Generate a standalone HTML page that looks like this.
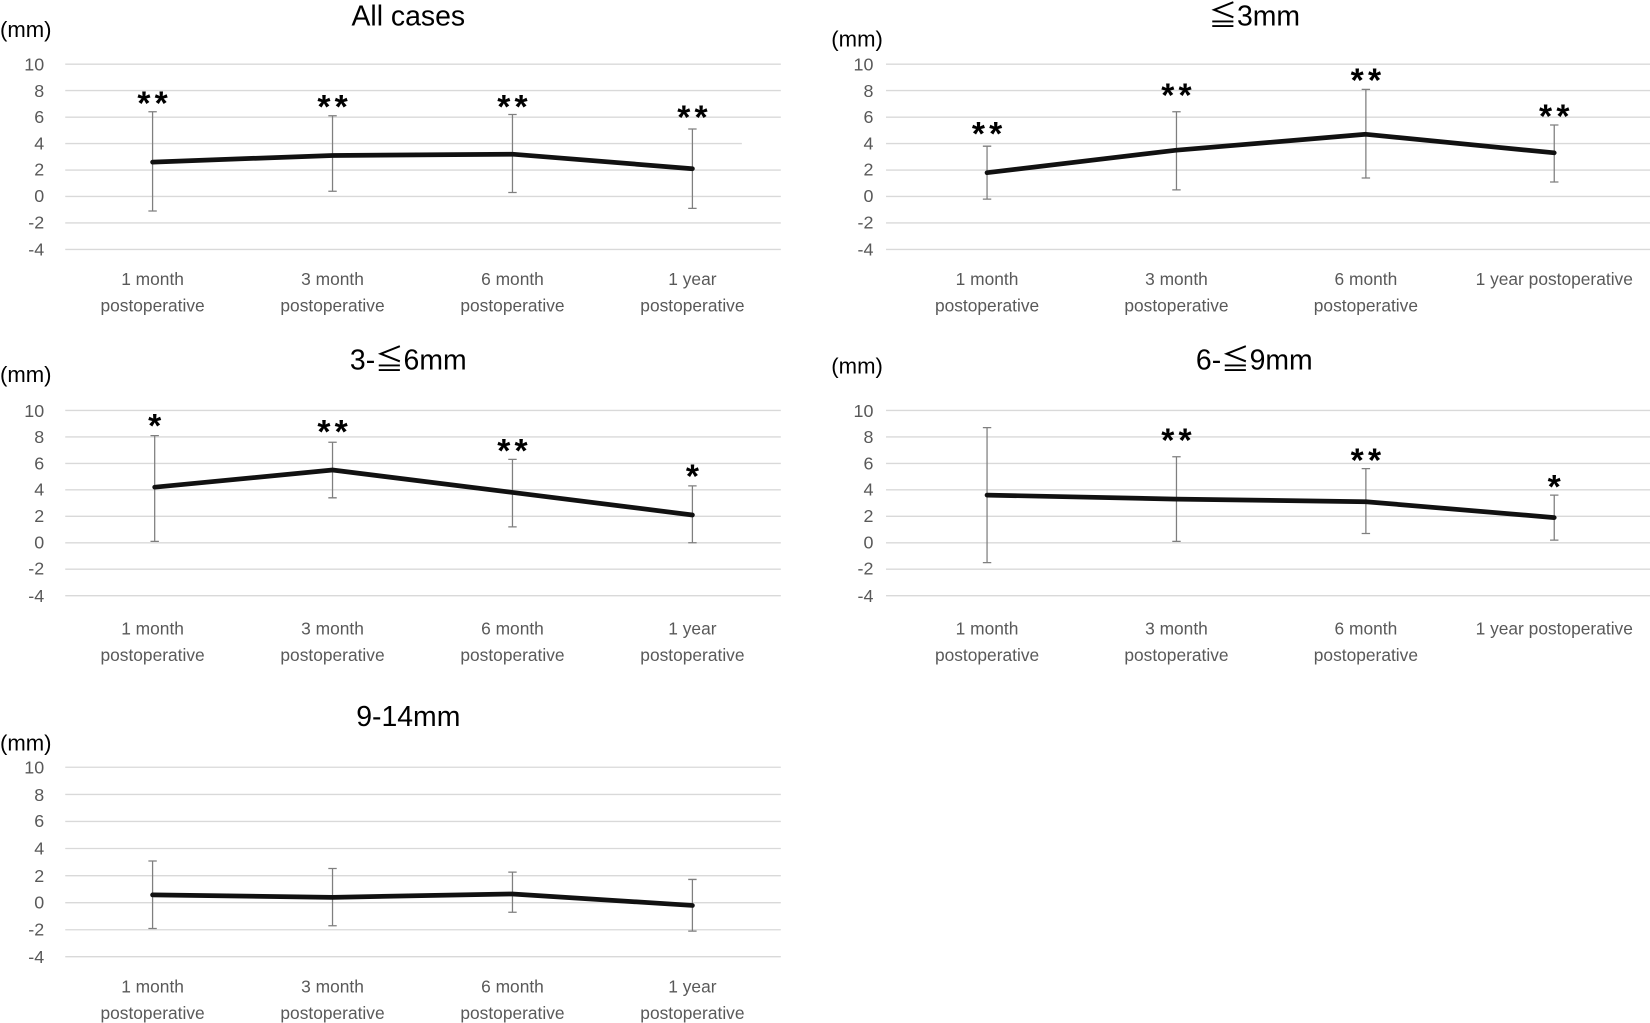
<!DOCTYPE html>
<html><head><meta charset="utf-8"><style>
html,body{margin:0;padding:0;background:#fff;}
svg{display:block;}
text{font-family:"Liberation Sans Narrow","Liberation Sans","Noto Sans CJK JP",sans-serif;}
.tk{font-size:17px;fill:#595959;text-anchor:end;}
.c{font-size:16.5px;fill:#595959;text-anchor:middle;}
.ti{font-size:27px;fill:#000;text-anchor:middle;}
.mm{font-size:21px;fill:#000;}
.st{font-family:"Liberation Sans",sans-serif;font-size:32px;font-weight:bold;fill:#000;text-anchor:middle;letter-spacing:4px;}
.g line{stroke:#d9d9d9;stroke-width:1.3;}
.e{stroke:#7f7f7f;stroke-width:1.2;fill:none;}
.l{stroke:#111;stroke-width:4.5;fill:none;stroke-linejoin:round;stroke-linecap:round;}
</style></head><body>
<svg width="1650" height="1023" viewBox="0 0 1568 972" preserveAspectRatio="none" xmlns="http://www.w3.org/2000/svg">
<defs>
<g id="gridA" class="g">
<line x1="62" x2="742" y1="61" y2="61"/><line x1="62" x2="742" y1="86.1" y2="86.1"/><line x1="62" x2="742" y1="111.3" y2="111.3"/><line x1="62" x2="742" y1="136.4" y2="136.4"/><line x1="62" x2="742" y1="161.6" y2="161.6"/><line x1="62" x2="742" y1="186.7" y2="186.7"/><line x1="62" x2="742" y1="211.8" y2="211.8"/><line x1="62" x2="742" y1="237" y2="237"/>
</g>
<g id="gridB" class="g">
<line x1="62" x2="788" y1="61" y2="61"/><line x1="62" x2="788" y1="86.1" y2="86.1"/><line x1="62" x2="788" y1="111.3" y2="111.3"/><line x1="62" x2="788" y1="136.4" y2="136.4"/><line x1="62" x2="788" y1="161.6" y2="161.6"/><line x1="62" x2="788" y1="186.7" y2="186.7"/><line x1="62" x2="788" y1="211.8" y2="211.8"/><line x1="62" x2="788" y1="237" y2="237"/>
</g>
</defs>

<!-- Panel A -->
<g>
<g class="g">
<line x1="62" x2="742" y1="61" y2="61"/><line x1="62" x2="742" y1="86.1" y2="86.1"/><line x1="62" x2="742" y1="111.3" y2="111.3"/><line x1="62" x2="705" y1="136.4" y2="136.4"/><line x1="62" x2="742" y1="161.6" y2="161.6"/><line x1="62" x2="742" y1="186.7" y2="186.7"/><line x1="62" x2="742" y1="211.8" y2="211.8"/><line x1="62" x2="742" y1="237" y2="237"/>
</g>
<text class="tk" x="42" y="67">10</text><text class="tk" x="42" y="92">8</text><text class="tk" x="42" y="117">6</text><text class="tk" x="42" y="142">4</text><text class="tk" x="42" y="167">2</text><text class="tk" x="42" y="192">0</text><text class="tk" x="42" y="217">-2</text><text class="tk" x="42" y="243">-4</text>
<text class="ti" x="388" y="24">All cases</text>
<text class="mm" x="0" y="35">(mm)</text>
<path class="e" d="M145 106.2V200.5M141 106.2h8M141 200.5h8 M316 110V181.7M312 110h8M312 181.7h8 M487 108.8V182.9M483 108.8h8M483 182.9h8 M658 122.6V198M654 122.6h8M654 198h8"/>
<polyline class="l" points="145,154 316,147.7 487,146.5 658,160.3"/>
<text class="st" x="147" y="109">**</text><text class="st" x="318" y="112">**</text><text class="st" x="489" y="112">**</text><text class="st" x="660" y="122">**</text>
<text class="c" x="145" y="271">1 month</text><text class="c" x="145" y="296">postoperative</text>
<text class="c" x="316" y="271">3 month</text><text class="c" x="316" y="296">postoperative</text>
<text class="c" x="487" y="271">6 month</text><text class="c" x="487" y="296">postoperative</text>
<text class="c" x="658" y="271">1 year</text><text class="c" x="658" y="296">postoperative</text>
</g>

<!-- Panel B -->
<g transform="translate(780,0)">
<use href="#gridB"/>
<text class="tk" x="50" y="67">10</text><text class="tk" x="50" y="92">8</text><text class="tk" x="50" y="117">6</text><text class="tk" x="50" y="142">4</text><text class="tk" x="50" y="167">2</text><text class="tk" x="50" y="192">0</text><text class="tk" x="50" y="217">-2</text><text class="tk" x="50" y="243">-4</text>
<text class="ti" x="412" y="24">≦3mm</text>
<text class="mm" x="10" y="44">(mm)</text>
<path class="e" d="M158 138.9V189.2M154 138.9h8M154 189.2h8 M338 106.2V180.4M334 106.2h8M334 180.4h8 M518 84.9V169.1M514 84.9h8M514 169.1h8 M697 118.8V172.9M693 118.8h8M693 172.9h8"/>
<polyline class="l" points="158,164.1 338,142.7 518,127.6 697,145.2"/>
<text class="st" x="160" y="138">**</text><text class="st" x="340" y="101">**</text><text class="st" x="520" y="87">**</text><text class="st" x="699" y="121">**</text>
<text class="c" x="158" y="271">1 month</text><text class="c" x="158" y="296">postoperative</text>
<text class="c" x="338" y="271">3 month</text><text class="c" x="338" y="296">postoperative</text>
<text class="c" x="518" y="271">6 month</text><text class="c" x="518" y="296">postoperative</text>
<text class="c" x="697" y="271">1 year postoperative</text>
</g>

<!-- Panel C -->
<g transform="translate(0,329)">
<use href="#gridA"/>
<text class="tk" x="42" y="67">10</text><text class="tk" x="42" y="92">8</text><text class="tk" x="42" y="117">6</text><text class="tk" x="42" y="142">4</text><text class="tk" x="42" y="167">2</text><text class="tk" x="42" y="192">0</text><text class="tk" x="42" y="217">-2</text><text class="tk" x="42" y="243">-4</text>
<text class="ti" x="388" y="22">3-≦6mm</text>
<text class="mm" x="0" y="34">(mm)</text>
<path class="e" d="M147 84.9V185.4M143 84.9h8M143 185.4h8 M316 91.2V144M312 91.2h8M312 144h8 M487 107.5V171.6M483 107.5h8M483 171.6h8 M658 132.6V186.7M654 132.6h8M654 186.7h8"/>
<polyline class="l" points="147,133.9 316,117.6 487,138.9 658,160.3"/>
<text class="st" x="149" y="86">*</text><text class="st" x="318" y="92">**</text><text class="st" x="489" y="110">**</text><text class="st" x="660" y="134">*</text>
<text class="c" x="145" y="274">1 month</text><text class="c" x="145" y="299">postoperative</text>
<text class="c" x="316" y="274">3 month</text><text class="c" x="316" y="299">postoperative</text>
<text class="c" x="487" y="274">6 month</text><text class="c" x="487" y="299">postoperative</text>
<text class="c" x="658" y="274">1 year</text><text class="c" x="658" y="299">postoperative</text>
</g>

<!-- Panel D -->
<g transform="translate(780,329)">
<use href="#gridB"/>
<text class="tk" x="50" y="67">10</text><text class="tk" x="50" y="92">8</text><text class="tk" x="50" y="117">6</text><text class="tk" x="50" y="142">4</text><text class="tk" x="50" y="167">2</text><text class="tk" x="50" y="192">0</text><text class="tk" x="50" y="217">-2</text><text class="tk" x="50" y="243">-4</text>
<text class="ti" x="412" y="22">6-≦9mm</text>
<text class="mm" x="10" y="26">(mm)</text>
<path class="e" d="M158 77.3V205.6M154 77.3h8M154 205.6h8 M338 105V185.4M334 105h8M334 185.4h8 M518 116.3V177.9M514 116.3h8M514 177.9h8 M697 141.4V184.2M693 141.4h8M693 184.2h8"/>
<polyline class="l" points="158,141.4 338,145.2 518,147.7 697,162.8"/>
<text class="st" x="340" y="100">**</text><text class="st" x="520" y="119">**</text><text class="st" x="699" y="144">*</text>
<text class="c" x="158" y="274">1 month</text><text class="c" x="158" y="299">postoperative</text>
<text class="c" x="338" y="274">3 month</text><text class="c" x="338" y="299">postoperative</text>
<text class="c" x="518" y="274">6 month</text><text class="c" x="518" y="299">postoperative</text>
<text class="c" x="697" y="274">1 year postoperative</text>
</g>

<!-- Panel E -->
<g transform="translate(0,668)">
<g class="g">
<line x1="62" x2="742" y1="61" y2="61"/><line x1="62" x2="742" y1="86.8" y2="86.8"/><line x1="62" x2="742" y1="112.5" y2="112.5"/><line x1="62" x2="742" y1="138.2" y2="138.2"/><line x1="62" x2="742" y1="164" y2="164"/><line x1="62" x2="742" y1="189.7" y2="189.7"/><line x1="62" x2="742" y1="215.4" y2="215.4"/><line x1="62" x2="742" y1="241" y2="241"/>
</g>
<text class="tk" x="42" y="67">10</text><text class="tk" x="42" y="93">8</text><text class="tk" x="42" y="118">6</text><text class="tk" x="42" y="144">4</text><text class="tk" x="42" y="170">2</text><text class="tk" x="42" y="195">0</text><text class="tk" x="42" y="221">-2</text><text class="tk" x="42" y="247">-4</text>
<text class="ti" x="388" y="22">9-14mm</text>
<text class="mm" x="0" y="45">(mm)</text>
<path class="e" d="M145 150.1V214.2M141 150.1h8M141 214.2h8 M316 157.2V211.6M312 157.2h8M312 211.6h8 M487 160.6V198.8M483 160.6h8M483 198.8h8 M658 167.6V216.7M654 167.6h8M654 216.7h8"/>
<polyline class="l" points="145,182.3 316,184.6 487,181.4 658,192.3"/>
<text class="c" x="145" y="275">1 month</text><text class="c" x="145" y="300">postoperative</text>
<text class="c" x="316" y="275">3 month</text><text class="c" x="316" y="300">postoperative</text>
<text class="c" x="487" y="275">6 month</text><text class="c" x="487" y="300">postoperative</text>
<text class="c" x="658" y="275">1 year</text><text class="c" x="658" y="300">postoperative</text>
</g>
</svg>
</body></html>
